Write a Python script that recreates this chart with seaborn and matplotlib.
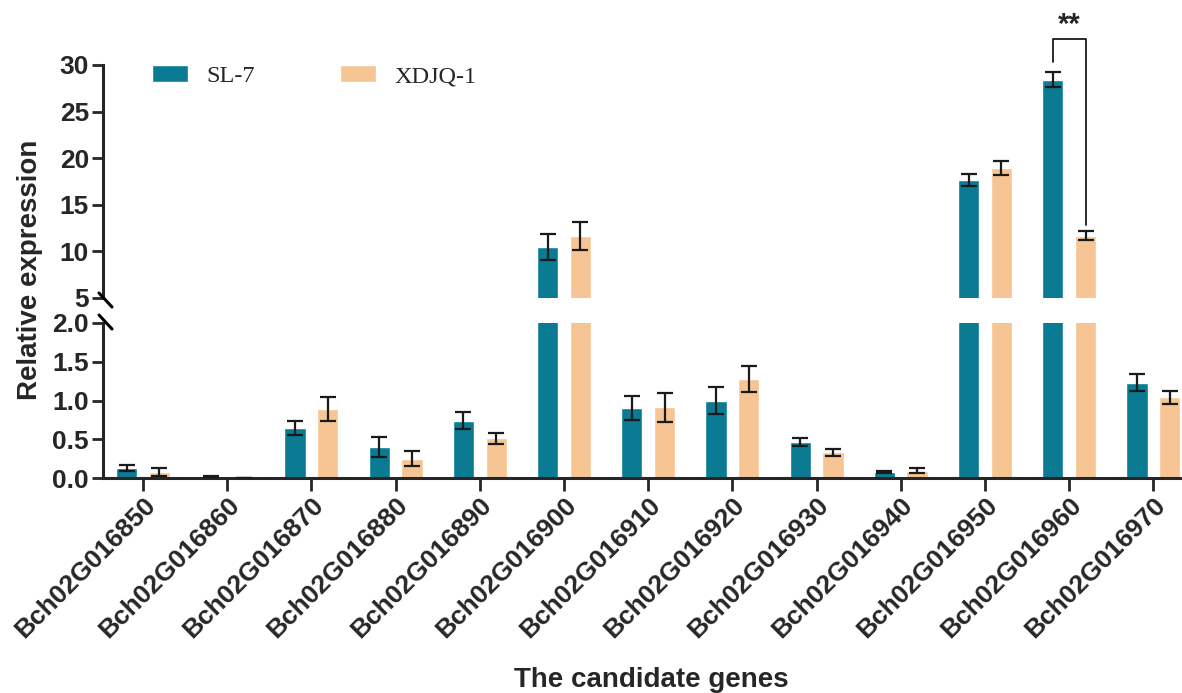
import matplotlib
matplotlib.use("Agg")
import matplotlib.pyplot as plt
import seaborn as sns
import pandas as pd
import numpy as np

genes = ["Bch02G016850", "Bch02G016860", "Bch02G016870", "Bch02G016880",
         "Bch02G016890", "Bch02G016900", "Bch02G016910", "Bch02G016920",
         "Bch02G016930", "Bch02G016940", "Bch02G016950", "Bch02G016960",
         "Bch02G016970"]
sl7_mean = [0.13, 0.02, 0.64, 0.40, 0.74, 10.45, 0.90, 1.00, 0.46, 0.077, 17.65, 28.4, 1.23]
sl7_err = [0.04, 0.005, 0.09, 0.125, 0.11, 1.37, 0.155, 0.17, 0.05, 0.008, 0.68, 0.8, 0.11]
xdjq_mean = [0.08, 0.003, 0.89, 0.25, 0.51, 11.65, 0.91, 1.28, 0.335, 0.095, 18.95, 11.7, 1.04]
xdjq_err = [0.055, 0.0, 0.16, 0.10, 0.075, 1.5, 0.19, 0.165, 0.045, 0.03, 0.73, 0.53, 0.085]
groups = ["SL-7", "XDJQ-1"]
colors = ["#0A7B93", "#F6C593"]
upper_ticks = [5, 10, 15, 20, 25, 30]
lower_ticks = [0.0, 0.5, 1.0, 1.5, 2.0]

df = pd.DataFrame({
    "gene": genes * 2,
    "group": [groups[0]] * len(genes) + [groups[1]] * len(genes),
    "value": sl7_mean + xdjq_mean,
})
errs = [sl7_err, xdjq_err]
means = [sl7_mean, xdjq_mean]

sns.set_style("ticks")
plt.rcParams["font.family"] = ["Liberation Sans", "DejaVu Sans"]
plt.rcParams["font.weight"] = "bold"

W, H = 1182, 693
fig = plt.figure(figsize=(W / 100, H / 100), dpi=100)
left = 103 / W
ax_up = fig.add_axes([left, 1 - 298 / H, 1 - left, (298 - 65) / H])
ax_lo = fig.add_axes([left, 1 - 478 / H, 1 - left, (478 - 323) / H])

for ax in (ax_up, ax_lo):
    sns.barplot(data=df, x="gene", y="value", hue="group", palette=colors,
                order=genes, hue_order=groups, width=0.776, gap=0.35,
                errorbar=None, ax=ax, legend=(ax is ax_up), saturation=1)
    for cont, m, e in zip(ax.containers, means, errs):
        xs = [p.get_x() + p.get_width() / 2 for p in cont.patches]
        ax.errorbar(xs, m, yerr=e, fmt="none", ecolor="#1a1a1a",
                    elinewidth=1.6, capsize=5.5, capthick=1.6, zorder=5)
    ax.set_xlim(-0.475, 12.34)
    ax.set_xlabel("")
    ax.set_ylabel("")
    for s in ("top", "right"):
        ax.spines[s].set_visible(False)
    ax.spines["left"].set_linewidth(2.2)
    ax.spines["bottom"].set_linewidth(2.2)
    ax.tick_params(axis="y", length=8, width=2, labelsize=19, pad=2)

ax_up.set_ylim(5, 30)
ax_up.set_yticks(upper_ticks)
ax_up.set_yticklabels([str(t) for t in upper_ticks])
ax_up.spines["bottom"].set_visible(False)
ax_up.tick_params(axis="x", bottom=False, labelbottom=False)

ax_lo.set_ylim(0, 2.0)
ax_lo.set_yticks(lower_ticks)
ax_lo.set_yticklabels([f"{t:.1f}" for t in lower_ticks])
ax_lo.tick_params(axis="x", length=9, width=2, labelsize=19, pad=2)
for lab in ax_lo.get_xticklabels():
    lab.set_rotation(45)
    lab.set_ha("right")
    lab.set_rotation_mode("anchor")
    lab.set_fontweight("bold")
for lab in ax_lo.get_yticklabels() + ax_up.get_yticklabels():
    lab.set_fontweight("bold")

# break marks
for ypix in (300, 322):
    yf = 1 - ypix / H
    fig.add_artist(plt.Line2D([99 / W, 112 / W], [yf + 7 / H, yf - 7 / H],
                              color="black", lw=2.2, transform=fig.transFigure))

# legend
leg = ax_up.legend(loc="upper left", bbox_to_anchor=(0.045, 1.0), ncol=2,
                   frameon=False, borderpad=0, borderaxespad=0,
                   handlelength=1.48, handleheight=0.7, handletextpad=0.76,
                   columnspacing=3.5,
                   prop={"family": "Liberation Serif", "size": 17.5, "weight": "normal"})

# significance bracket
i = 11
x1 = i - 0.194
x2 = i + 0.194
y_start = sl7_mean[i] + sl7_err[i] + 1.1
y_top = sl7_mean[i] + sl7_err[i] + 3.55
y_end = xdjq_mean[i] + xdjq_err[i] + 0.55
ax_up.plot([x1, x1, x2, x2], [y_start, y_top, y_top, y_end], color="#1a1a1a",
           lw=1.3, clip_on=False, zorder=6)
ax_up.text(i, y_top + 0.1, "**", ha="center", va="bottom", fontsize=21,
           fontweight="bold", clip_on=False)

fig.text(30 / W, 1 - 270 / H, "Relative expression", rotation=90, ha="center",
         va="center", fontsize=20, fontweight="bold")
fig.text(651 / W, 1 - 680 / H, "The candidate genes", ha="center", va="center",
         fontsize=20, fontweight="bold")

fig.savefig("out.png", dpi=100)
